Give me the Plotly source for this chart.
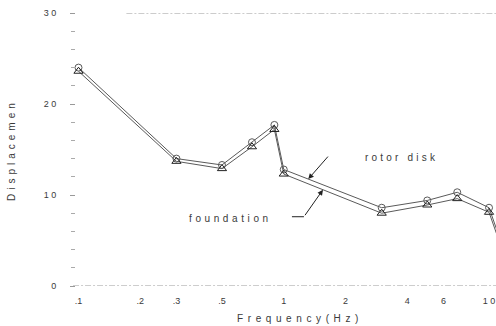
import math
import plotly.graph_objects as go

# ---- data ----
freq = [0.1, 0.3, 0.5, 0.7, 0.9, 1.0, 3.0, 5.0, 7.0, 10.0, 12.0]
rotor_disk = [24.0, 14.0, 13.3, 15.8, 17.7, 12.8, 8.6, 9.4, 10.3, 8.6, 3.5]
foundation = [23.6, 13.7, 12.9, 15.3, 17.2, 12.3, 8.0, 8.9, 9.6, 8.1, 3.0]

x_tickvals = [0.1, 0.2, 0.3, 0.5, 1, 2, 4, 6, 10]
x_ticktext = [".1", ".2", ".3", ".5", "1", "2", "4", "6", "1 0"]
y_tickvals = [0, 10, 20, 30]
y_ticktext = ["0", "1 0", "2 0", "3 0"]

# ---- layout geometry ----
W, H = 496, 326
ML, MR, MT, MB = 76, 0, 13, 40
PW, PH = W - ML - MR, H - MT - MB
XMIN, XMAX = -1.0122, 1.0339   # 0.1 -> ~78.5 px, 10 -> ~493 px
YMIN, YMAX = 0, 30

FONT = "Liberation Sans"
INK = "#3a3a3a"
LINE = "#5a5a5a"


def px_x(v):
    return ML + (math.log10(v) - XMIN) / (XMAX - XMIN) * PW


def px_y(v):
    return MT + (YMAX - v) / (YMAX - YMIN) * PH


def spaced(s, ls):
    return '<span style="letter-spacing:%.1fpx">%s</span>' % (ls, s)


def paper(px, py):
    return (px - ML) / PW, (H - MB - py) / PH


fig = go.Figure()
fig.add_trace(go.Scatter(
    x=freq, y=rotor_disk, mode="lines+markers", name="rotor disk",
    line=dict(color=LINE, width=1),
    marker=dict(symbol="circle-open", size=7, color=LINE, line=dict(width=1)),
    cliponaxis=False,
))
fig.add_trace(go.Scatter(
    x=freq, y=foundation, mode="lines+markers", name="foundation",
    line=dict(color=LINE, width=1),
    marker=dict(symbol="triangle-up-open", size=8, color="#222", line=dict(width=1)),
    cliponaxis=False,
))

# frame lines (top & bottom), broken like the scan
fig.add_shape(type="line", xref="paper", yref="y", x0=-0.007, x1=1, y0=0, y1=0,
              line=dict(color="#9a9a9a", width=1, dash="6px,2px,2px,2px"))
fig.add_shape(type="line", xref="paper", yref="y", x0=0.12, x1=1, y0=30, y1=30,
              line=dict(color="#9a9a9a", width=1, dash="6px,2px,2px,2px"))

# leader arrows, tips placed along the 1 Hz -> 3 Hz segments
i1, i3 = freq.index(1.0), freq.index(3.0)


def along(series, f):
    lx = math.log10(freq[i1]) + f * (math.log10(freq[i3]) - math.log10(freq[i1]))
    ly = series[i1] + f * (series[i3] - series[i1])
    return lx, ly


rx, ry = along(rotor_disk, 0.25)
fig.add_annotation(x=rx, y=ry, xref="x", yref="y", ax=21, ay=-24, text="",
                   showarrow=True, arrowhead=2, arrowsize=1.1, arrowwidth=1,
                   arrowcolor="#222")
fx, fy = along(foundation, 0.40)
fig.add_annotation(x=fx, y=fy, xref="x", yref="y", ax=-19, ay=27, text="",
                   showarrow=True, arrowhead=2, arrowsize=1.1, arrowwidth=1,
                   arrowcolor="#222")
# horizontal foot of the foundation leader
tail_px = px_x(10 ** fx) - 19
tail_py = px_y(fy) + 27
fx0, fy0 = paper(tail_px - 12, tail_py)
fx1, _ = paper(tail_px, tail_py)
fig.add_shape(type="line", xref="paper", yref="paper", x0=fx0, x1=fx1, y0=fy0, y1=fy0,
              line=dict(color="#222", width=1))

# series labels
lx, ly = paper(401, 157)
fig.add_annotation(x=lx, y=ly, xref="paper", yref="paper", xanchor="center", yanchor="middle",
                   text=spaced("rotor disk", 3.2), showarrow=False,
                   font=dict(family=FONT, size=10, color=INK))
lx, ly = paper(230, 218)
fig.add_annotation(x=lx, y=ly, xref="paper", yref="paper", xanchor="center", yanchor="middle",
                   text=spaced("foundation", 3.6), showarrow=False,
                   font=dict(family=FONT, size=10, color=INK))

# axis titles
lx, ly = paper(11, 150)
fig.add_annotation(x=lx, y=ly, xref="paper", yref="paper", xanchor="center", yanchor="middle",
                   text=spaced("Displacemen", 4.0), textangle=-90, showarrow=False,
                   font=dict(family=FONT, size=10, color=INK))
lx, ly = paper(300, 318)
fig.add_annotation(x=lx, y=ly, xref="paper", yref="paper", xanchor="center", yanchor="middle",
                   text=spaced("Frequency(Hz)", 4.6), showarrow=False,
                   font=dict(family=FONT, size=10, color=INK))

fig.update_layout(
    width=W, height=H,
    margin=dict(l=ML, r=MR, t=MT, b=MB, pad=0),
    paper_bgcolor="white", plot_bgcolor="white",
    showlegend=False,
    font=dict(family=FONT, size=9, color=INK),
)
fig.update_xaxes(
    type="log", range=[XMIN, XMAX], tickvals=x_tickvals, ticktext=x_ticktext,
    showgrid=False, zeroline=False, showline=False, ticks="",
    ticklabelstandoff=8, tickfont=dict(family=FONT, size=9, color=INK),
)
fig.update_yaxes(
    range=[YMIN, YMAX], tickvals=y_tickvals, ticktext=y_ticktext,
    showgrid=False, zeroline=False, showline=False,
    ticks="outside", ticklen=5, tickcolor="#999", tickwidth=1,
    minor=dict(dtick=2, ticks="outside", ticklen=4, tickcolor="#aaa", tickwidth=1),
    ticklabelstandoff=12, tickfont=dict(family=FONT, size=9, color=INK),
)

fig.write_html("out.html")
